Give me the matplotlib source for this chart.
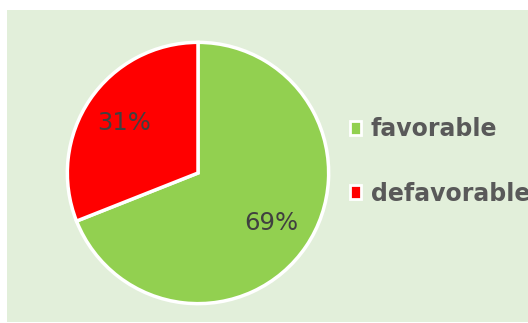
import matplotlib.pyplot as plt
from matplotlib.patches import Rectangle, Patch

categorias = ['favorable', 'defavorable']
valores = [69, 31]
colores = ['#92D050', '#FF0000']

ancho, alto = 528, 323
fig = plt.figure(figsize=(ancho / 100, alto / 100), dpi=100)
fig.patch.set_facecolor('white')

# panel de fondo verde claro
fig.patches.append(Rectangle((7 / ancho, 1 / alto), 1 - 7 / ancho, 312 / alto,
                             transform=fig.transFigure, facecolor='#E2EFDA',
                             edgecolor='none', zorder=-5))

cx, cy, r = 198, 173, 130
ax = fig.add_axes([(cx - r) / ancho, (alto - cy - r) / alto, 2 * r / ancho, 2 * r / alto])
ax.set_facecolor('none')

cunas, _, autotextos = ax.pie(valores, colors=colores, startangle=90, counterclock=False,
                              autopct='%1.0f%%', pctdistance=0.68,
                              wedgeprops=dict(edgecolor='white', linewidth=2.5))
for t in autotextos:
    t.set_fontsize(17.5)
    t.set_color('#404040')
ax.set_xlim(-0.995, 0.995)
ax.set_ylim(-0.995, 0.995)
ax.set_aspect('equal')
ax.axis('off')

manijas = [Patch(facecolor=c, edgecolor='white', linewidth=2) for c in colores]
fig.legend(manijas, categorias, loc='center left', bbox_to_anchor=(0.622, 0.5),
           frameon=False, prop=dict(weight='bold', size=17), labelcolor='#595959',
           handlelength=0.5, handleheight=0.5, handletextpad=0.4, labelspacing=1.7)

fig.savefig('out.png', dpi=100)
